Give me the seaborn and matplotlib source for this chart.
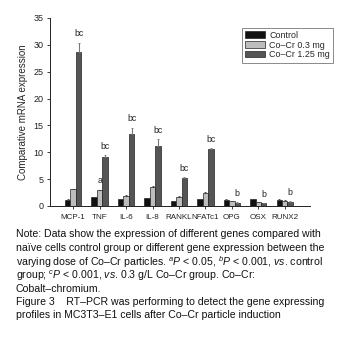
import numpy as np
import pandas as pd
import matplotlib
matplotlib.use("Agg")
import matplotlib.pyplot as plt
import seaborn as sns

genes = ["MCP-1", "TNF", "IL-6", "IL-8", "RANKL", "NFATc1", "OPG", "OSX", "RUNX2"]
groups = ["Control", "Co-Cr 0.3 mg", "Co-Cr 1.25 mg"]
control = [1.2, 1.6, 1.3, 1.5, 0.9, 1.3, 1.2, 1.3, 1.2]
cocr_03 = [3.1, 2.9, 1.9, 3.6, 1.7, 2.5, 0.9, 0.7, 1.0]
cocr_125 = [28.6, 9.2, 13.4, 11.2, 5.2, 10.6, 0.6, 0.5, 0.8]
err_control = [0.05, 0.05, 0.05, 0.05, 0.05, 0.05, 0.05, 0.05, 0.05]
err_03 = [0.1, 0.15, 0.1, 0.15, 0.1, 0.15, 0.05, 0.05, 0.05]
err_125 = [1.8, 0.2, 1.2, 1.2, 0.2, 0.2, 0.05, 0.05, 0.05]
labels_03 = ["", "a", "", "", "", "", "", "", ""]
labels_125 = ["bc", "bc", "bc", "bc", "bc", "bc", "b", "b", "b"]
y_ticks = [0, 5, 10, 15, 20, 25, 30, 35]

sns.set_style("white")
plt.rcParams["font.family"] = ["Liberation Sans", "DejaVu Sans"]
plt.rcParams["mathtext.fontset"] = "custom"
plt.rcParams["mathtext.rm"] = "Liberation Sans"
plt.rcParams["mathtext.it"] = "Liberation Sans:italic"

df = pd.DataFrame({
    "gene": genes * 3,
    "group": [groups[0]] * 9 + [groups[1]] * 9 + [groups[2]] * 9,
    "value": control + cocr_03 + cocr_125,
})
colors = ["#111111", "#bdbdbd", "#555555"]

fig = plt.figure(figsize=(3.42, 3.45), dpi=100)
ax = fig.add_axes([0.146, 0.403, 0.76, 0.545])
sns.barplot(data=df, x="gene", y="value", hue="group", palette=colors,
            order=genes, hue_order=groups, width=0.62, errorbar=None,
            edgecolor="#222222", linewidth=0.5, ax=ax, legend=True)

errs = [err_control, err_03, err_125]
bar_conts = list(ax.containers)[:3]
for gi, cont in enumerate(bar_conts):
    for bi, bar in enumerate(list(cont.patches)):
        xc = bar.get_x() + bar.get_width() / 2
        h = bar.get_height()
        ax.errorbar([xc], [h], yerr=[[0], [errs[gi][bi]]], fmt="none",
                    ecolor="#777777" if gi == 2 else "#444444", elinewidth=0.8,
                    capsize=1.0, capthick=0.6)
        lab = None
        if gi == 1:
            lab = labels_03[bi]
        elif gi == 2:
            lab = labels_125[bi]
        if lab:
            ax.text(xc, h + errs[gi][bi] + 0.8, lab, ha="center", va="bottom",
                    fontsize=6.3, color="#222222")

ax.set_xlim(-0.88, 8.95)
ax.set_ylim(0, 35)
ax.set_yticks(y_ticks)
ax.tick_params(axis="y", labelsize=6.5, length=2.5, width=0.6, pad=2,
               direction="out", colors="#222222", left=True)
ax.tick_params(axis="x", labelsize=5.8, length=2.5, width=0.6, pad=3,
               direction="out", colors="#222222", bottom=True)
ax.set_xlabel("")
ax.set_ylabel("Comparative mRNA expression", fontsize=7, labelpad=4)
sns.despine(ax=ax)
for s in ["left", "bottom"]:
    ax.spines[s].set_linewidth(0.7)
    ax.spines[s].set_color("#222222")

handles, lbls = ax.get_legend_handles_labels()
ax.legend(handles, ["Control", "Co\u2013Cr 0.3 mg", "Co\u2013Cr 1.25 mg"],
          loc="upper right", bbox_to_anchor=(0.974, 0.92),
          bbox_transform=fig.transFigure, fontsize=6.4, frameon=True,
          fancybox=False, edgecolor="#555555", handlelength=2.2,
          handleheight=0.7, labelspacing=0.1, borderpad=0.35,
          handletextpad=0.5, borderaxespad=0)
ax.get_legend().get_frame().set_linewidth(0.6)

caption = [
    "Note: Data show the expression of different genes compared with",
    "na\u00efve cells control group or different gene expression between the",
    "varying dose of Co\u2013Cr particles. $^{a}\\mathit{P}$ < 0.05, $^{b}\\mathit{P}$ < 0.001, $\\mathit{vs}$. control",
    "group; $^{c}\\mathit{P}$ < 0.001, $\\mathit{vs}$. 0.3 g/L Co\u2013Cr group. Co\u2013Cr:",
    "Cobalt\u2013chromium.",
    "Figure 3    RT\u2013PCR was performing to detect the gene expressing",
    "profiles in MC3T3\u2013E1 cells after Co\u2013Cr particle induction",
]
ys = [234, 248, 262, 276, 289, 302, 315]
for line, y in zip(caption, ys):
    fig.text(16 / 342, 1 - y / 345, line, ha="left", va="center",
             fontsize=7.6, color="#111111")

fig.savefig("out.png", dpi=100)
